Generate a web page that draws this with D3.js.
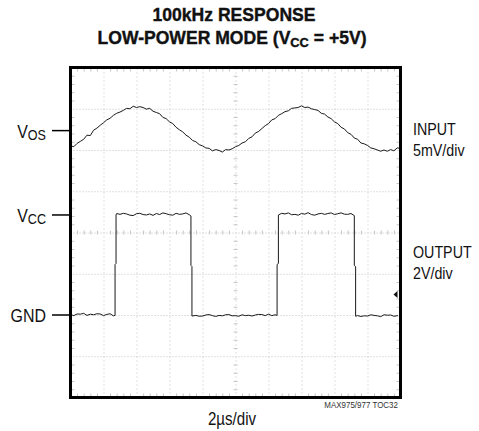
<!DOCTYPE html>
<html>
<head>
<meta charset="utf-8">
<script src="https://cdn.jsdelivr.net/npm/d3@7/dist/d3.min.js"></script>
<style>
  body { margin: 0; background: #fff; }
  svg text { font-family: "Liberation Sans", Arial, sans-serif; fill: #111; }
  .grid line { stroke: #c2c2c2; stroke-width: 1; }
  .grid path { display: none; }
  .minor line { stroke: #c6c6c6; stroke-width: 1; }
  .minor path { display: none; }
</style>
</head>
<body>
<div id="viz"></div>
<script>
// scope screen: 10 x 8 divisions, 2us/div
var timeDivs = d3.range(0, 21, 2),          // us
    voltDivs = d3.range(-4, 5, 1);          // divisions

// input trace, mV relative to Vos (5mV/div), read every 0.2us
var inT = d3.range(0, 20.01, 0.2).map(function(d) { return +d.toFixed(1); });
var inMv = [
  -1.85, -1.95, -1.55, -1.30, -1.05, -0.55, -0.60, 0.05, 0.30, 0.65,
   0.95,  1.30,  1.50,  1.85,  2.10,  2.25,  2.45, 2.70, 2.65, 2.95,
   2.80,  2.90,  2.80,  2.60,  2.70,  2.35,  2.20, 2.05, 1.60, 1.45,
   1.05,  0.85,  0.40,  0.10, -0.15, -0.55, -0.80, -1.20, -1.35, -1.70,
  -1.85, -2.10, -2.15, -2.45, -2.30, -2.40, -2.60, -2.30, -2.35, -2.20,
  -1.95, -1.80, -1.50, -1.35, -0.95, -0.75, -0.30, -0.10, 0.25, 0.60,
   0.85,  1.30,  1.45,  1.85,  2.05,  2.30,  2.40, 2.70, 2.75, 2.80,
   3.00,  2.80,  2.85,  2.65,  2.55,  2.45,  2.10, 2.00, 1.65, 1.45,
   1.05,  0.85,  0.40,  0.20, -0.25, -0.45, -0.90, -1.05, -1.50, -1.60,
  -1.80, -2.10, -2.20, -2.35, -2.50, -2.35, -2.50, -2.30, -2.45, -2.10,
  -2.15
];

// output trace, volts (2V/div)
var outT = [
  0, 0.2, 0.4, 0.6, 0.8, 1.0, 1.2, 1.4, 1.6, 1.8, 2.0, 2.2, 2.4, 2.6, 2.70,
  2.70, 2.76, 2.76,
  2.8, 3.0, 3.2, 3.4, 3.6, 3.8, 4.0, 4.2, 4.4, 4.6, 4.8, 5.0, 5.2, 5.4, 5.6,
  5.8, 6.0, 6.2, 6.4, 6.6, 6.8, 7.0, 7.2, 7.30,
  7.30, 7.36, 7.36,
  7.6, 7.8, 8.0, 8.2, 8.4, 8.6, 8.8, 9.0, 9.2, 9.4, 9.6, 9.8, 10.0, 10.2,
  10.4, 10.6, 10.8, 11.0, 11.2, 11.4, 11.6, 11.8, 12.0, 12.2, 12.4, 12.52,
  12.52, 12.60, 12.60,
  12.8, 13.0, 13.2, 13.4, 13.6, 13.8, 14.0, 14.2, 14.4, 14.6, 14.8, 15.0,
  15.2, 15.4, 15.6, 15.8, 16.0, 16.2, 16.4, 16.6, 16.8, 17.0, 17.20,
  17.20, 17.28, 17.28,
  17.4, 17.6, 17.8, 18.0, 18.2, 18.4, 18.6, 18.8, 19.0, 19.2, 19.4, 19.6, 19.85
];
var outV = [
  0.02, -0.03, 0.05, 0.04, 0.08, -0.02, 0.04, 0.01, 0.06, 0.05, -0.03, 0.03, 0.06, -0.04, -0.02,
  2.45, 2.50, 4.85,
  4.92, 4.88, 4.93, 4.90, 4.84, 4.82, 4.91, 4.93, 4.87, 4.85, 4.90, 4.83, 4.92, 4.87, 4.95,
  4.91, 4.86, 4.84, 4.93, 4.88, 4.90, 4.95, 4.86, 4.80,
  2.40, 2.35, -0.05,
  -0.02, -0.06, -0.05, 0.00, 0.02, -0.03, -0.07, -0.02, -0.04, 0.01, 0.02, -0.04, -0.03, -0.06,
  0.01, -0.03, -0.01, -0.05, 0.00, 0.03, 0.02, -0.03, 0.04, -0.03, 0.01, -0.02,
  2.45, 2.50, 4.85,
  4.93, 4.90, 4.95, 4.86, 4.88, 4.84, 4.92, 4.89, 4.96, 4.87, 4.84, 4.90,
  4.93, 4.88, 4.92, 4.95, 4.87, 4.91, 4.95, 4.89, 4.88, 4.92, 4.82,
  2.40, 2.35, -0.06,
  -0.03, -0.07, -0.04, -0.05, 0.01, -0.02, -0.04, -0.08, 0.01, -0.01, 0.00, -0.06, -0.03
];

var vosDiv = 2.47,      // where Vos sits on screen
    gndDiv = -2,        // where GND sits on screen
    vccLevel = 4.85;    // volts

var leftMain = ["V", "V", "GND"],
    leftSub = ["OS", "CC", ""],
    rightLabels = [["INPUT", "5mV/div"], ["OUTPUT", "2V/div"]];

var titleLines = ["100kHz RESPONSE", "LOW-POWER MODE (V", "CC", " = +5V)"];

var W = 479, H = 431,
    pLeft = 70.5, pTop = 67.5, size = 330,
    narrow = 0.84;   // condensed look

var x = d3.scaleLinear().domain([0, 20]).range([pLeft, pLeft + size]);
var yDiv = d3.scaleLinear().domain([-4, 4]).range([pTop + size, pTop]);
var yIn = function(mv) { return yDiv(vosDiv + mv / 5); };
var yOut = function(v) { return yDiv(gndDiv + v / 2); };

var svg = d3.select('#viz').append('svg')
  .attr('width', W).attr('height', H);

// text helper, squeezed horizontally
function label(xx, yy, anchor, size, sx) {
  return svg.append('g')
    .attr('transform', 'translate(' + xx + ',' + yy + ') scale(' + (sx || narrow) + ',1)')
    .append('text').attr('text-anchor', anchor).attr('font-size', size);
}

// title
var t1 = label(234, 21, 'middle', 18.5, 0.95).attr('font-weight', 'bold')
  .style('stroke', '#111').style('stroke-width', 0.4).text(titleLines[0]);
var t2 = label(232, 44, 'middle', 18.5, 0.95).attr('font-weight', 'bold')
  .style('stroke', '#111').style('stroke-width', 0.4);
t2.append('tspan').text(titleLines[1]);
t2.append('tspan').attr('font-size', 13.5).attr('dy', 3).text(titleLines[2]);
t2.append('tspan').attr('dy', -3).text(titleLines[3]);

// grid lines
var innerT = timeDivs.slice(1, -1), innerV = voltDivs.slice(1, -1);
svg.append('g').attr('class', 'grid')
  .attr('transform', 'translate(0,' + (pTop + size) + ')')
  .call(d3.axisBottom(x).tickValues(innerT).tickSize(-size).tickFormat(''))
  .selectAll('line').attr('stroke-dasharray', '1,3');
svg.append('g').attr('class', 'grid')
  .attr('transform', 'translate(' + pLeft + ',0)')
  .call(d3.axisLeft(yDiv).tickValues(innerV).tickSize(-size).tickFormat(''))
  .selectAll('line').attr('stroke-dasharray', '1,2');

// minor ticks on frame edges and centre axes
var minorT = d3.range(0, 20.01, 0.4).filter(function(d) { return Math.abs(d / 2 - Math.round(d / 2)) > 0.01; });
var minorV = d3.range(-4, 4.01, 0.2).filter(function(d) { return Math.abs(d - Math.round(d)) > 0.01; });
[pTop, pTop + size].forEach(function(yy, i) {
  svg.append('g').attr('class', 'minor')
    .attr('transform', 'translate(0,' + yy + ')')
    .call((i ? d3.axisTop(x) : d3.axisBottom(x)).tickValues(minorT).tickSize(4).tickFormat(''));
});
[pLeft, pLeft + size].forEach(function(xx, i) {
  svg.append('g').attr('class', 'minor')
    .attr('transform', 'translate(' + xx + ',0)')
    .call((i ? d3.axisLeft(yDiv) : d3.axisRight(yDiv)).tickValues(minorV).tickSize(4).tickFormat(''));
});
svg.append('g').attr('class', 'minor')
  .attr('transform', 'translate(0,' + yDiv(0) + ')')
  .call(d3.axisBottom(x).tickValues(minorT).tickSizeInner(2).tickSizeOuter(0).tickFormat(''))
  .selectAll('line').attr('y1', -2);
svg.append('g').attr('class', 'minor')
  .attr('transform', 'translate(' + x(10) + ',0)')
  .call(d3.axisRight(yDiv).tickValues(minorV).tickSizeInner(2).tickSizeOuter(0).tickFormat(''))
  .selectAll('line').attr('x1', -2);

// traces
var inLine = d3.line().x(function(d, i) { return x(inT[i]); }).y(function(d) { return yIn(d); });
svg.append('path').datum(inMv)
  .attr('d', inLine)
  .attr('fill', 'none').attr('stroke', '#1a1a1a').attr('stroke-width', 1);

var outLine = d3.line().x(function(d, i) { return x(outT[i]); }).y(function(d) { return yOut(d); });
svg.append('path').datum(outV)
  .attr('d', outLine)
  .attr('fill', 'none').attr('stroke', '#1a1a1a').attr('stroke-width', 1);

// trigger marker
var trigY = yDiv(-1.5);
svg.append('path')
  .attr('d', 'M' + (x(20) - 7) + ',' + trigY + 'l4,-3.5v7z')
  .attr('fill', '#111');

// frame
svg.append('rect')
  .attr('x', pLeft).attr('y', pTop).attr('width', size).attr('height', size)
  .attr('fill', 'none').attr('stroke', '#000').attr('stroke-width', 3);

// left markers
var leftY = [yIn(0), yOut(vccLevel), yOut(0)];
leftY.forEach(function(yy, i) {
  svg.append('line').attr('x1', 52).attr('x2', pLeft).attr('y1', yy).attr('y2', yy)
    .attr('stroke', '#000').attr('stroke-width', 1.5);
  var t = label(46, yy + 7, 'end', 19);
  t.append('tspan').text(leftMain[i]);
  if (leftSub[i]) t.append('tspan').attr('font-size', 15).attr('dy', 2).text(leftSub[i]);
});

// right labels
var rightY = [135, 258];
rightLabels.forEach(function(lines, i) {
  lines.forEach(function(s, j) {
    label(413, rightY[i] + j * 21, 'start', 17).text(s);
  });
});

// bottom
label(232, 425, 'middle', 18).text('2\u00b5s/div');
label(398, 408, 'end', 9.5).style('fill', '#333').text('MAX975/977 TOC32');
</script>
</body>
</html>
